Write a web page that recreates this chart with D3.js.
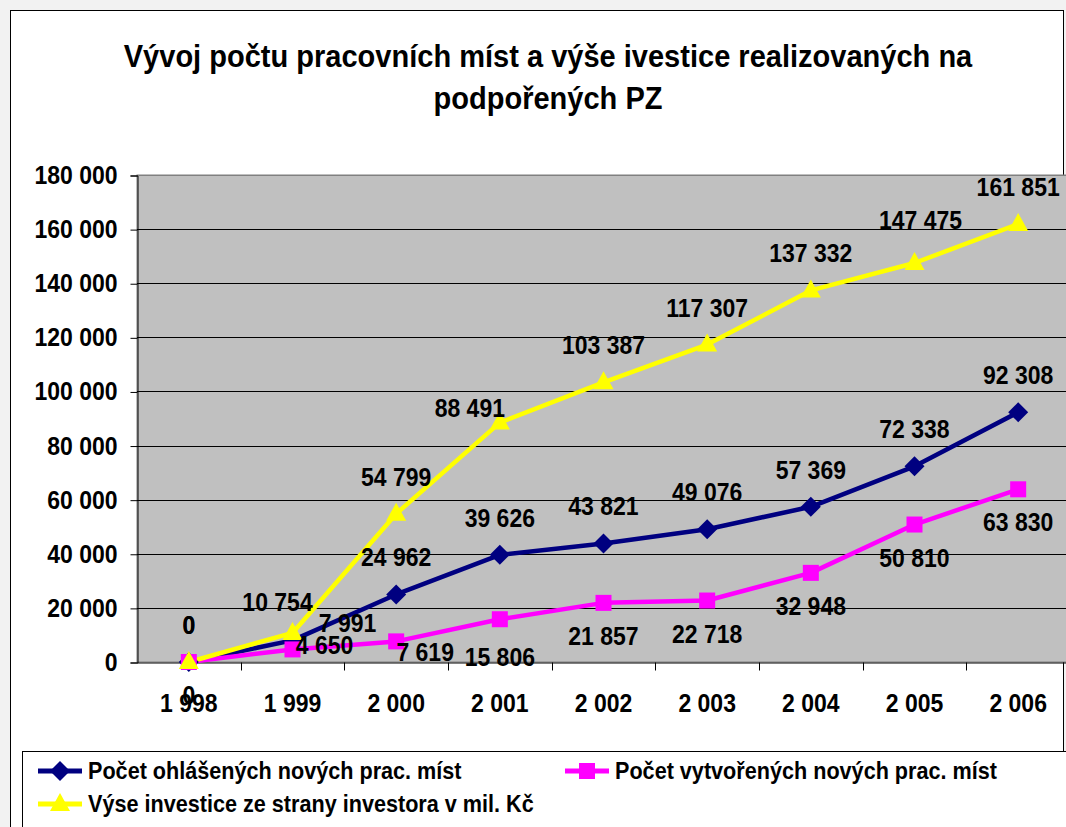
<!DOCTYPE html>
<html><head><meta charset="utf-8">
<script src="https://cdn.jsdelivr.net/npm/d3@7"></script>
<style>
html,body{margin:0;padding:0;background:#fff;}
svg{display:block;font-family:"Liberation Sans",Arial,sans-serif;font-weight:bold;}
.cond{transform-box:fill-box;transform-origin:center;transform:scale(0.92,1);}
.condT{transform-box:fill-box;transform-origin:center;transform:scale(0.937,1);}
.condL{transform-box:fill-box;transform-origin:left;transform:scale(0.94,1);}
.condR{transform-box:fill-box;transform-origin:right;transform:scale(0.92,1);}
</style></head>
<body>
<svg id="c" width="1066" height="827"></svg>
<script>
const years = ["1 998","1 999","2 000","2 001","2 002","2 003","2 004","2 005","2 006"];
const reportedJobs = [0, 7991, 24962, 39626, 43821, 49076, 57369, 72338, 92308];
const createdJobs = [0, 4650, 7619, 15806, 21857, 22718, 32948, 50810, 63830];
const investment = [0, 10754, 54799, 88491, 103387, 117307, 137332, 147475, 161851];
const yTicks = [0, 20000, 40000, 60000, 80000, 100000, 120000, 140000, 160000, 180000];
const seriesNames = ["Počet ohlášených nových prac. míst", "Počet vytvořených nových prac. míst", "Výse investice ze strany investora v mil. Kč"];
const titleLines = ["Vývoj počtu pracovních míst a výše ivestice realizovaných na", "podpořených PZ"];

const fmt = v => d3.format(",")(v).replace(/,/g, " ");

const svg = d3.select("#c");
// outer frame
svg.append("rect").attr("x",0).attr("y",0).attr("width",1066).attr("height",827).attr("fill","#f2f2f2");
svg.append("rect").attr("x",10.5).attr("y",10.5).attr("width",1053).attr("height",830).attr("fill","#fff").attr("stroke","#000").attr("stroke-width",1);

// title
svg.append("g").selectAll("text").data(titleLines).join("text")
  .attr("class","condT")
  .attr("x", 548).attr("y",(d,i)=>67+i*42).attr("text-anchor","middle")
  .attr("font-size",31).attr("fill","#000").text(d=>d);

const x = d3.scaleBand().domain(years).range([137, 1070]);
const y = d3.scaleLinear().domain([0, 180000]).range([662, 175]);
const cx = d => x(d) + x.bandwidth()/2;

// plot area
svg.append("rect").attr("x",137).attr("y",175).attr("width",1070-137).attr("height",662-175).attr("fill","#c0c0c0").attr("stroke","#808080").attr("stroke-width",1);

// gridlines
svg.append("g").selectAll("line").data(yTicks.slice(1)).join("line")
  .attr("x1",137).attr("x2",1070).attr("y1",d=>Math.round(y(d))+0.5).attr("y2",d=>Math.round(y(d))+0.5)
  .attr("stroke",d=>d===180000?"#808080":"#000").attr("stroke-width",1);

// y axis
const yAxis = d3.axisLeft(y).tickValues(yTicks).tickFormat(fmt).tickSize(7).tickPadding(13);
const gy = svg.append("g").attr("transform","translate(137.5,0.5)").call(yAxis);
gy.selectAll("text").attr("class","condR").attr("font-size",25).attr("font-family","Liberation Sans, Arial, sans-serif").attr("font-weight","bold").attr("fill","#000");
gy.select(".domain").attr("stroke","#000");

// x axis
const xAxis = d3.axisBottom(x).tickSize(0).tickPadding(32);
const gx = svg.append("g").attr("transform","translate(0,662.5)").call(xAxis);
gx.selectAll("text").attr("class","cond").attr("font-size",25).attr("font-family","Liberation Sans, Arial, sans-serif").attr("font-weight","bold").attr("fill","#000");
gx.select(".domain").attr("stroke","#000");
// tick marks at category boundaries
gx.append("g").selectAll("line").data(years.slice(1)).join("line")
  .attr("x1",d=>Math.round(x(d))+0.5).attr("x2",d=>Math.round(x(d))+0.5).attr("y1",0).attr("y2",8).attr("stroke","#000");

const series = [
  {name: seriesNames[0], values: reportedJobs, color:"#000080", marker:"diamond", dy:-37,
   nudge:{1:[55,20]}},
  {name: seriesNames[1], values: createdJobs, color:"#ff00ff", marker:"square", dy:33,
   nudge:{1:[32,-37], 2:[29,-22], 3:[0,5]}},
  {name: seriesNames[2], values: investment, color:"#ffff00", marker:"triangle", dy:-37,
   nudge:{1:[-15,6], 3:[-30,22], 7:[6,-6]}}
];

function drawMarker(g, type, color){
  if(type==="diamond") g.append("path").attr("d","M0,-10 L10,0 L0,10 L-10,0 Z").attr("fill",color);
  else if(type==="square") g.append("rect").attr("x",-8).attr("y",-8).attr("width",16).attr("height",16).attr("fill",color);
  else g.append("path").attr("d","M0,-11 L10,7 L-10,7 Z").attr("fill",color);
}

const line = d3.line().x((d,i)=>cx(years[i])).y(d=>y(d));
series.forEach(s=>{
  svg.append("path").datum(s.values).attr("d",line).attr("fill","none").attr("stroke",s.color).attr("stroke-width",4.5).attr("stroke-linejoin","round");
});
series.forEach(s=>{
  s.values.forEach((v,i)=>{
    const g = svg.append("g").attr("transform",`translate(${cx(years[i])},${y(v)})`);
    drawMarker(g, s.marker, s.color);
  });
});
// data labels
series.forEach(s=>{
  s.values.forEach((v,i)=>{
    const n = s.nudge[i] || [0,0];
    svg.append("text").attr("class","cond").attr("x",cx(years[i])+n[0]).attr("y",y(v)+s.dy+n[1]+9)
      .attr("text-anchor","middle").attr("font-size",25).attr("fill","#000").text(fmt(v));
  });
});

// legend
svg.append("rect").attr("x",22.5).attr("y",751.5).attr("width",1100).attr("height",120).attr("fill","#fff").attr("stroke","#000");
const legPos = [[38,771],[565,771],[38,804]];
series.forEach((s,i)=>{
  const [lx,ly] = legPos[i];
  const g = svg.append("g").attr("transform",`translate(${lx},${ly})`);
  g.append("line").attr("x1",0).attr("x2",44).attr("y1",0).attr("y2",0).attr("stroke",s.color).attr("stroke-width",5);
  const m = g.append("g").attr("transform","translate(22,0)");
  drawMarker(m, s.marker, s.color);
  g.append("text").attr("class","condL").attr("x",50).attr("y",8).attr("font-size",23).attr("fill","#000").text(s.name);
});
</script>
</body></html>
